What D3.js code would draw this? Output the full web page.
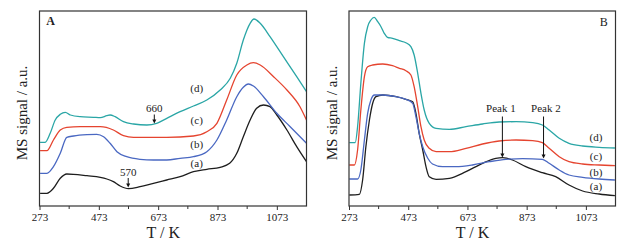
<!DOCTYPE html>
<html>
<head>
<meta charset="utf-8">
<script src="https://cdn.jsdelivr.net/npm/d3@7"></script>
<style>
  body { margin: 0; padding: 0; background: #fff; }
  svg { display: block; }
  text { font-family: 'Liberation Serif', 'DejaVu Serif', serif; fill: #222; }
</style>
</head>
<body>
<div id="main"></div>
<script>
// ---- data: [T (K), signal (a.u.)] ----
const tickLabels = [273, 473, 673, 873, 1073];
const minorTicks = [373, 573, 773, 973];
const seriesNames = ['(a)', '(b)', '(c)', '(d)'];
const seriesColors = ['#1e1e1e', '#4a68c2', '#e5442f', '#2aa6a6'];

const A_a = [[275,12.7],[298,12.7],[320,17.7],[343,27.7],[365,32],[388,31.7],[433,30.3],[478,28.7],[500,27],[522,24.3],[545,20],[573,17.3],[612,19.3],[657,22.7],[702,26],[747,29.3],[792,34.3],[837,36.7],[882,38.7],[914,42.7],[938,52.7],[960,69.3],[983,86],[1005,97.7],[1028,101],[1050,99.3],[1073,91],[1107,76],[1140,59.3],[1173,44.3]];
const A_b = [[275,32.7],[298,32.7],[320,39.3],[343,52.7],[365,68.7],[388,70],[433,71.3],[466,71.7],[489,69.3],[511,62.7],[534,54.3],[567,49.3],[612,46.7],[657,46],[702,46],[747,47.7],[792,49.3],[837,54.3],[871,66],[904,86],[938,109.3],[960,118.7],[977,122],[994,120],[1028,109.3],[1073,92.7],[1118,79.3],[1173,62.7]];
const A_c = [[275,55.3],[298,55.3],[320,66],[343,76],[365,78.7],[410,79.3],[478,79.3],[522,76],[556,70.3],[590,68.7],[702,68.7],[792,70],[837,74.3],[871,82.7],[904,106],[938,131],[972,141],[994,143.3],[1017,141],[1062,129.3],[1107,116],[1151,99.3],[1173,86]];
const A_d = [[275,63.7],[292,63.7],[309,72.7],[326,86],[343,91.7],[360,93.7],[377,91],[410,89.3],[455,88.7],[478,88.3],[500,90.3],[511,91],[528,89.3],[556,84.3],[590,82],[635,81],[668,82.7],[702,87.7],[747,94.3],[792,100],[837,106],[882,116],[916,127.7],[938,142.7],[960,166],[983,182.7],[996,187],[1017,182.7],[1050,169.3],[1095,149.3],[1140,129.3],[1173,114.3]];

const B_a = [[274,11],[308,11.7],[319,26],[330,59.3],[342,86],[353,102.7],[364,109.3],[387,111],[432,109.3],[465,106.7],[488,104.3],[499,92.7],[510,72.7],[522,56],[533,39.3],[544,29.3],[567,26.7],[612,27.7],[668,34.3],[724,42.7],[769,47.7],[792,48.3],[825,46],[870,39.3],[926,33.3],[971,29.3],[1016,21],[1062,15],[1118,12],[1171,10.3]];
const B_b = [[274,27],[302,27],[313,36],[325,66],[336,92.7],[347,106],[359,111],[387,111],[432,109.3],[465,106.7],[488,102.7],[499,89.3],[510,72.7],[522,59.3],[539,47.7],[555,42],[589,39.3],[634,39.3],[690,41],[747,44.3],[803,46.7],[859,47.3],[926,46.7],[949,42.7],[983,36],[1016,31],[1062,28.7],[1118,27],[1171,26]];
const B_c = [[274,41],[291,41],[302,56],[313,96],[325,129.3],[336,139.3],[353,141],[387,142],[420,140.3],[443,137.7],[465,135.3],[482,131],[493,119.3],[505,99.3],[516,79.3],[527,66],[544,57.7],[567,54.3],[612,54.3],[668,57.7],[724,62],[780,65],[837,66],[893,65.3],[926,63.3],[949,57.7],[983,49.3],[1016,44.3],[1062,42],[1118,41],[1171,40.3]];
const B_d = [[274,63.3],[294,63.3],[302,79.3],[313,122.7],[325,162.7],[336,179.3],[347,186],[358,188.7],[370,184.3],[381,179.3],[392,172.7],[403,168.7],[420,167.7],[443,165.3],[465,163.3],[482,159.3],[493,151],[505,132.7],[516,112.7],[527,96],[544,82.7],[567,77.7],[612,76.7],[668,79.3],[724,82],[780,84],[837,84.3],[893,83.3],[926,81],[949,76],[983,67.7],[1016,62.7],[1062,60],[1118,58.7],[1171,58]];

const WIDTH = 636, HEIGHT = 246;
const svg = d3.select('#main').append('svg').attr('width', WIDTH).attr('height', HEIGHT);

const y = d3.scaleLinear().domain([0, 195]).range([206, 11]);

const panel = (opts) => {
    const { left, right, letter, letterPos, series, labelT, labels, ylabX } = opts;
    const x = d3.scaleLinear().domain([273, 1173]).range([left, right]);
    const g = svg.append('g');

    const line = d3.line().x(d => x(d[0])).y(d => y(d[1])).curve(d3.curveMonotoneX);
    series.forEach((s, i) => {
        g.append('path').datum(s)
            .attr('d', line)
            .attr('fill', 'none')
            .attr('stroke', seriesColors[i])
            .attr('stroke-width', 1.3);
    });

    // frame
    g.append('rect')
        .attr('x', left).attr('y', y(195))
        .attr('width', right - left).attr('height', y(0) - y(195))
        .attr('fill', 'none').attr('stroke', '#333').attr('stroke-width', 1.2);

    // x axis
    const axis = g.append('g').attr('transform', `translate(0,${y(0)})`)
        .call(d3.axisBottom(x).tickValues(tickLabels).tickFormat(d3.format('d')).tickSize(4).tickPadding(3));
    axis.select('.domain').remove();
    axis.selectAll('line').attr('stroke', '#333');
    axis.selectAll('text').attr('font-size', 11).attr('font-family', "'Liberation Serif', serif").attr('fill', '#222');
    g.selectAll('.minor').data(minorTicks).enter().append('line')
        .attr('x1', d => x(d)).attr('x2', d => x(d))
        .attr('y1', y(0)).attr('y2', y(0) + 3)
        .attr('stroke', '#333');

    g.append('text').text('T / K')
        .attr('x', x(690)).attr('y', 238)
        .attr('text-anchor', 'middle').attr('font-size', 16);

    g.append('text').text('MS signal / a.u.')
        .attr('transform', `translate(${ylabX},113) rotate(-90)`)
        .attr('text-anchor', 'middle').attr('font-size', 15);

    g.append('text').text(letter)
        .attr('x', x(letterPos[0])).attr('y', y(letterPos[1]))
        .attr('text-anchor', 'middle').attr('font-size', 12).attr('font-weight', opts.bold ? 'bold' : 'normal');

    labels.forEach((l, i) => {
        g.append('text').text(seriesNames[i])
            .attr('x', x(labelT)).attr('y', y(l))
            .attr('text-anchor', 'middle').attr('font-size', 11);
    });

    return { g, x };
};

const arrow = (g, x, t, v0, v1) => {
    g.append('line')
        .attr('x1', x(t)).attr('x2', x(t))
        .attr('y1', y(v0)).attr('y2', y(v1) - 3)
        .attr('stroke', '#111').attr('stroke-width', 1);
    g.append('path')
        .attr('d', `M${x(t) - 2},${y(v1) - 4} L${x(t) + 2},${y(v1) - 4} L${x(t)},${y(v1)} Z`)
        .attr('fill', '#111');
};

const pA = panel({
    left: 39.5, right: 306.5, letter: 'A', letterPos: [310, 181], bold: true,
    series: [A_a, A_b, A_c, A_d], labelT: 803, labels: [39, 58, 82, 114], ylabX: 27
});
const pB = panel({
    left: 349, right: 615.5, letter: 'B', letterPos: [1133, 180],
    series: [B_a, B_b, B_c, B_d], labelT: 1107, labels: [16, 30, 46.5, 65.5], ylabX: 337
});

// annotations
pA.g.append('text').text('570').attr('x', pA.x(572)).attr('y', y(30))
    .attr('text-anchor', 'middle').attr('font-size', 11);
arrow(pA.g, pA.x, 572, 28, 18.5);
pA.g.append('text').text('660').attr('x', pA.x(660)).attr('y', y(94))
    .attr('text-anchor', 'middle').attr('font-size', 11);
arrow(pA.g, pA.x, 660, 91.5, 82.5);

pB.g.append('text').text('Peak 1').attr('x', pB.x(786)).attr('y', y(94))
    .attr('text-anchor', 'middle').attr('font-size', 11);
arrow(pB.g, pB.x, 791, 89.5, 48.5);
pB.g.append('text').text('Peak 2').attr('x', pB.x(938)).attr('y', y(94))
    .attr('text-anchor', 'middle').attr('font-size', 11);
arrow(pB.g, pB.x, 930, 89.5, 47.5);
</script>
</body>
</html>
